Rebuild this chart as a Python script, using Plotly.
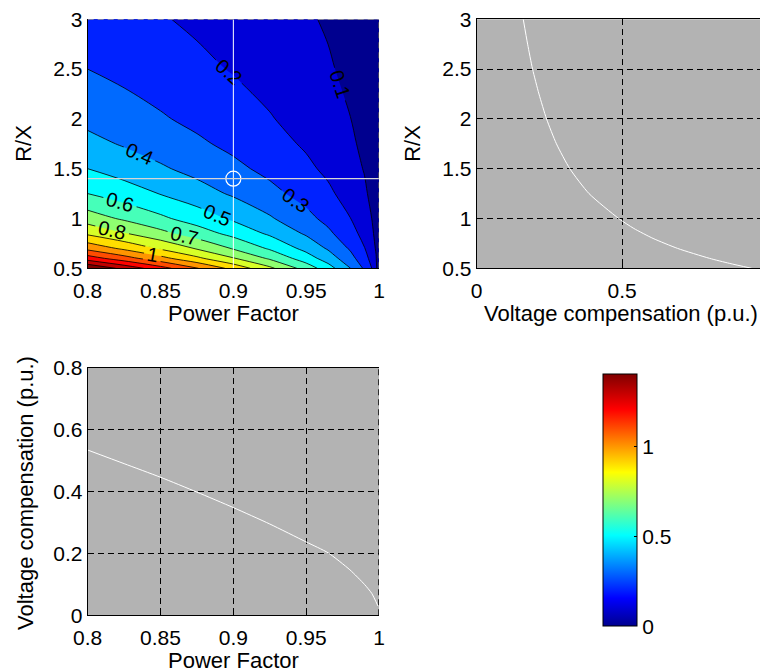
import plotly.graph_objects as go

# ---------------- data ----------------
power_factor = [0.8, 0.825, 0.85, 0.875, 0.9, 0.925, 0.95, 0.965, 0.98, 0.99, 0.995, 0.998, 1.0]
r_over_x = [0.5, 0.6, 0.7, 0.85, 1.0, 1.25, 1.5, 1.75, 2.0, 2.5, 3.0]
# voltage compensation (p.u.), rows follow r_over_x, columns follow power_factor
compensation_grid = [
    [1.500, 1.370, 1.240, 1.106, 0.968, 0.822, 0.658, 0.544, 0.406, 0.285, 0.201, 0.127, 0.0],
    [1.250, 1.142, 1.033, 0.922, 0.807, 0.685, 0.548, 0.453, 0.338, 0.238, 0.167, 0.106, 0.0],
    [1.071, 0.979, 0.886, 0.790, 0.691, 0.587, 0.470, 0.389, 0.290, 0.204, 0.143, 0.090, 0.0],
    [0.882, 0.806, 0.729, 0.651, 0.569, 0.484, 0.387, 0.320, 0.239, 0.168, 0.118, 0.074, 0.0],
    [0.750, 0.685, 0.620, 0.553, 0.484, 0.411, 0.329, 0.272, 0.203, 0.143, 0.100, 0.063, 0.0],
    [0.600, 0.548, 0.496, 0.442, 0.387, 0.329, 0.263, 0.218, 0.162, 0.114, 0.080, 0.051, 0.0],
    [0.500, 0.457, 0.413, 0.369, 0.323, 0.274, 0.219, 0.181, 0.135, 0.095, 0.067, 0.042, 0.0],
    [0.429, 0.391, 0.354, 0.316, 0.277, 0.235, 0.188, 0.155, 0.116, 0.081, 0.057, 0.036, 0.0],
    [0.375, 0.343, 0.310, 0.277, 0.242, 0.206, 0.165, 0.136, 0.102, 0.071, 0.050, 0.032, 0.0],
    [0.300, 0.274, 0.248, 0.221, 0.194, 0.164, 0.132, 0.109, 0.081, 0.057, 0.040, 0.025, 0.0],
    [0.250, 0.228, 0.207, 0.184, 0.161, 0.137, 0.110, 0.091, 0.068, 0.048, 0.033, 0.021, 0.0],
]
contour_start = 0.1
contour_end = 1.4
contour_step = 0.1
colorbar_max = 1.4

# operating point marked on the contour map
selected_pf = [0.9]
selected_rx = [1.4]

# slice at PF = 0.9 : R/X versus compensation
slice_rx = [3.0, 2.75, 2.5, 2.25, 2.0, 1.75, 1.5, 1.25, 1.0, 0.9, 0.8, 0.7, 0.6, 0.55, 0.5]
slice_rx_comp = [0.160, 0.175, 0.192, 0.214, 0.240, 0.274, 0.320, 0.386, 0.488, 0.540,
                 0.606, 0.690, 0.800, 0.868, 0.945]

# slice at R/X = 1.4 : compensation versus PF
slice_pf = [0.8, 0.825, 0.85, 0.875, 0.9, 0.925, 0.95, 0.965, 0.98, 0.99, 0.995, 0.9993]
slice_pf_comp = [0.534, 0.490, 0.446, 0.398, 0.348, 0.295, 0.237, 0.202, 0.147, 0.100, 0.071, 0.030]

pf_ticks = [0.8, 0.85, 0.9, 0.95, 1.0]
pf_ticktext = ["0.8", "0.85", "0.9", "0.95", "1"]
rx_ticks = [0.5, 1.0, 1.5, 2.0, 2.5, 3.0]
rx_ticktext = ["0.5", "1", "1.5", "2", "2.5", "3"]
comp_ticks = [0.0, 0.5, 1.0]
comp_ticktext = ["0", "0.5", "1"]
vc_ticks = [0.0, 0.2, 0.4, 0.6, 0.8]
vc_ticktext = ["0", "0.2", "0.4", "0.6", "0.8"]
cbar_ticks = [0.0, 0.5, 1.0]
cbar_ticktext = ["0", "0.5", "1"]

# ---------------- styling ----------------
W, H = 768, 670
OFF = 8  # page body margin that offsets the plot inside the window
FONT = "Liberation Sans, Arial, Helvetica, sans-serif"
FS = 21       # tick labels
FS_T = 22     # axis titles
GRAY = "#b3b3b3"

jet = [
    [0.0, "rgb(0,0,143)"],
    [0.11, "rgb(0,0,255)"],
    [0.36, "rgb(0,255,255)"],
    [0.61, "rgb(255,255,0)"],
    [0.86, "rgb(255,0,0)"],
    [1.0, "rgb(128,0,0)"],
]


def fx(px):
    return (px - OFF) / W


def fy(py):
    return 1 - (py - OFF) / H


# axes boxes in window pixels (left, right, top, bottom)
A1 = (87.7, 379.0, 19.3, 268.3)
A2 = (476.7, 767.7, 19.3, 268.3)
A3 = (87.7, 379.0, 367.7, 615.3)

fig = go.Figure()

fig.add_trace(go.Contour(
    x=power_factor, y=r_over_x, z=compensation_grid,
    xaxis="x", yaxis="y",
    autocontour=False,
    contours=dict(start=contour_start, end=contour_end, size=contour_step,
                  coloring="fill", showlabels=True,
                  labelfont=dict(family=FONT, size=20, color="black")),
    colorscale=jet,
    line=dict(color="black", width=0.8),
    showscale=False,
    hoverinfo="skip",
))

# operating point marker
fig.add_trace(go.Scatter(
    x=selected_pf, y=selected_rx, xaxis="x", yaxis="y", mode="markers",
    marker=dict(symbol="circle-open", size=15, color="white", line=dict(width=1.2, color="white")),
    hoverinfo="skip", showlegend=False,
))

# dummy trace for continuous colorbar
fig.add_trace(go.Scatter(
    x=[selected_pf[0], selected_pf[0]], y=[selected_rx[0], selected_rx[0]],
    xaxis="x", yaxis="y", mode="markers",
    marker=dict(size=0.001, opacity=0, color=[0, colorbar_max], colorscale=jet,
                cmin=0, cmax=colorbar_max, showscale=True,
                colorbar=dict(
                    x=fx(603.3), xanchor="left", xpad=0, ypad=0,
                    y=fy((374.3 + 626.0) / 2), yanchor="middle",
                    len=(626.0 - 374.3) / H, lenmode="fraction",
                    thickness=34, thicknessmode="pixels",
                    outlinewidth=1, outlinecolor="black",
                    tickvals=cbar_ticks, ticktext=cbar_ticktext,
                    ticks="inside", ticklen=3, tickcolor="black",
                    tickfont=dict(family=FONT, size=FS, color="black"),
                )),
    hoverinfo="skip", showlegend=False,
))

fig.add_trace(go.Scatter(
    x=slice_rx_comp, y=slice_rx, xaxis="x2", yaxis="y2", mode="lines",
    line=dict(color="white", width=1, shape="spline", smoothing=0.6),
    hoverinfo="skip", showlegend=False,
))

fig.add_trace(go.Scatter(
    x=slice_pf, y=slice_pf_comp, xaxis="x3", yaxis="y3", mode="lines",
    line=dict(color="white", width=1, shape="spline", smoothing=0.6),
    hoverinfo="skip", showlegend=False,
))

tickfont = dict(family=FONT, size=FS, color="black")


def xax(box, rng, tv, tt, anchor, grid, mirror, ticks):
    return dict(domain=[fx(box[0]), fx(box[1])], range=rng, anchor=anchor,
                tickvals=tv, ticktext=tt, tickfont=tickfont, automargin=False,
                ticklabeloverflow="allow",
                showline=True, linecolor="black", linewidth=1, mirror=mirror,
                ticks=ticks, ticklen=4, tickcolor="black", ticklabelstandoff=3,
                showgrid=grid, gridcolor="black", gridwidth=1, griddash="6px,4px",
                zeroline=False, fixedrange=True)


def yax(box, rng, tv, tt, anchor, grid, mirror, ticks):
    return dict(domain=[fy(box[3]), fy(box[2])], range=rng, anchor=anchor,
                tickvals=tv, ticktext=tt, tickfont=tickfont, automargin=False,
                ticklabeloverflow="allow",
                showline=True, linecolor="black", linewidth=1, mirror=mirror,
                ticks=ticks, ticklen=4, tickcolor="black",
                showgrid=grid, gridcolor="black", gridwidth=1, griddash="6px,4px",
                zeroline=False, fixedrange=True)


shapes = [
    # crosshair through the operating point
    dict(type="line", xref="x", yref="y", x0=selected_pf[0], x1=selected_pf[0], y0=0.5, y1=3.0,
         line=dict(color="white", width=1)),
    dict(type="line", xref="x", yref="y", x0=0.8, x1=1.0, y0=selected_rx[0], y1=selected_rx[0],
         line=dict(color="#d6d6d6", width=1.3)),
    # dashed grey box edges on the contour map (top and right)
    dict(type="line", xref="x", yref="y", x0=0.8, x1=1.0, y0=3.0, y1=3.0,
         line=dict(color="#999999", width=1.2, dash="6px,4px")),
    dict(type="line", xref="x", yref="y", x0=1.0, x1=1.0, y0=0.5, y1=3.0,
         line=dict(color="#555555", width=1.5, dash="6px,4px")),
    # dashed right edge of the bottom axes
    dict(type="line", xref="x3", yref="y3", x0=1.0, x1=1.0, y0=0.0, y1=0.8,
         line=dict(color="black", width=1.5, dash="6px,4px")),
]

annotations = []


def label(text, x, y, angle=0):
    annotations.append(dict(text=text, xref="paper", yref="paper", x=fx(x), y=fy(y),
                            xanchor="center", yanchor="middle", showarrow=False,
                            textangle=angle, font=dict(family=FONT, size=FS_T, color="black")))


label("Power Factor", (A1[0] + A1[1]) / 2, 314)
label("R/X", 24, (A1[2] + A1[3]) / 2, -90)
label("Voltage compensation (p.u.)", (A2[0] + 767.7) / 2 - 1, 314)
label("R/X", 413, (A2[2] + A2[3]) / 2, -90)
label("Power Factor", (A3[0] + A3[1]) / 2, 660)
label("Voltage compensation (p.u.)", 25, 493, -90)

fig.update_layout(
    width=W, height=H,
    margin=dict(l=0, r=0, t=0, b=0, autoexpand=False),
    paper_bgcolor="white", plot_bgcolor=GRAY,
    showlegend=False,
    font=dict(family=FONT, size=FS, color="black"),
    xaxis=xax(A1, [0.8, 1.0], pf_ticks, pf_ticktext, "y", False, False, ""),
    yaxis=yax(A1, [0.5, 3.0], rx_ticks, rx_ticktext, "x", False, False, ""),
    xaxis2=xax(A2, [0.0, 1.0], comp_ticks, comp_ticktext, "y2", True, True, "inside"),
    yaxis2=yax(A2, [0.5, 3.0], rx_ticks, rx_ticktext, "x2", True, True, "inside"),
    xaxis3=xax(A3, [0.8, 1.0], pf_ticks, pf_ticktext, "y3", True, True, "inside"),
    yaxis3=yax(A3, [0.0, 0.8], vc_ticks, vc_ticktext, "x3", True, False, "inside"),
    shapes=shapes,
    annotations=annotations,
)

fig.write_html("out.html")
